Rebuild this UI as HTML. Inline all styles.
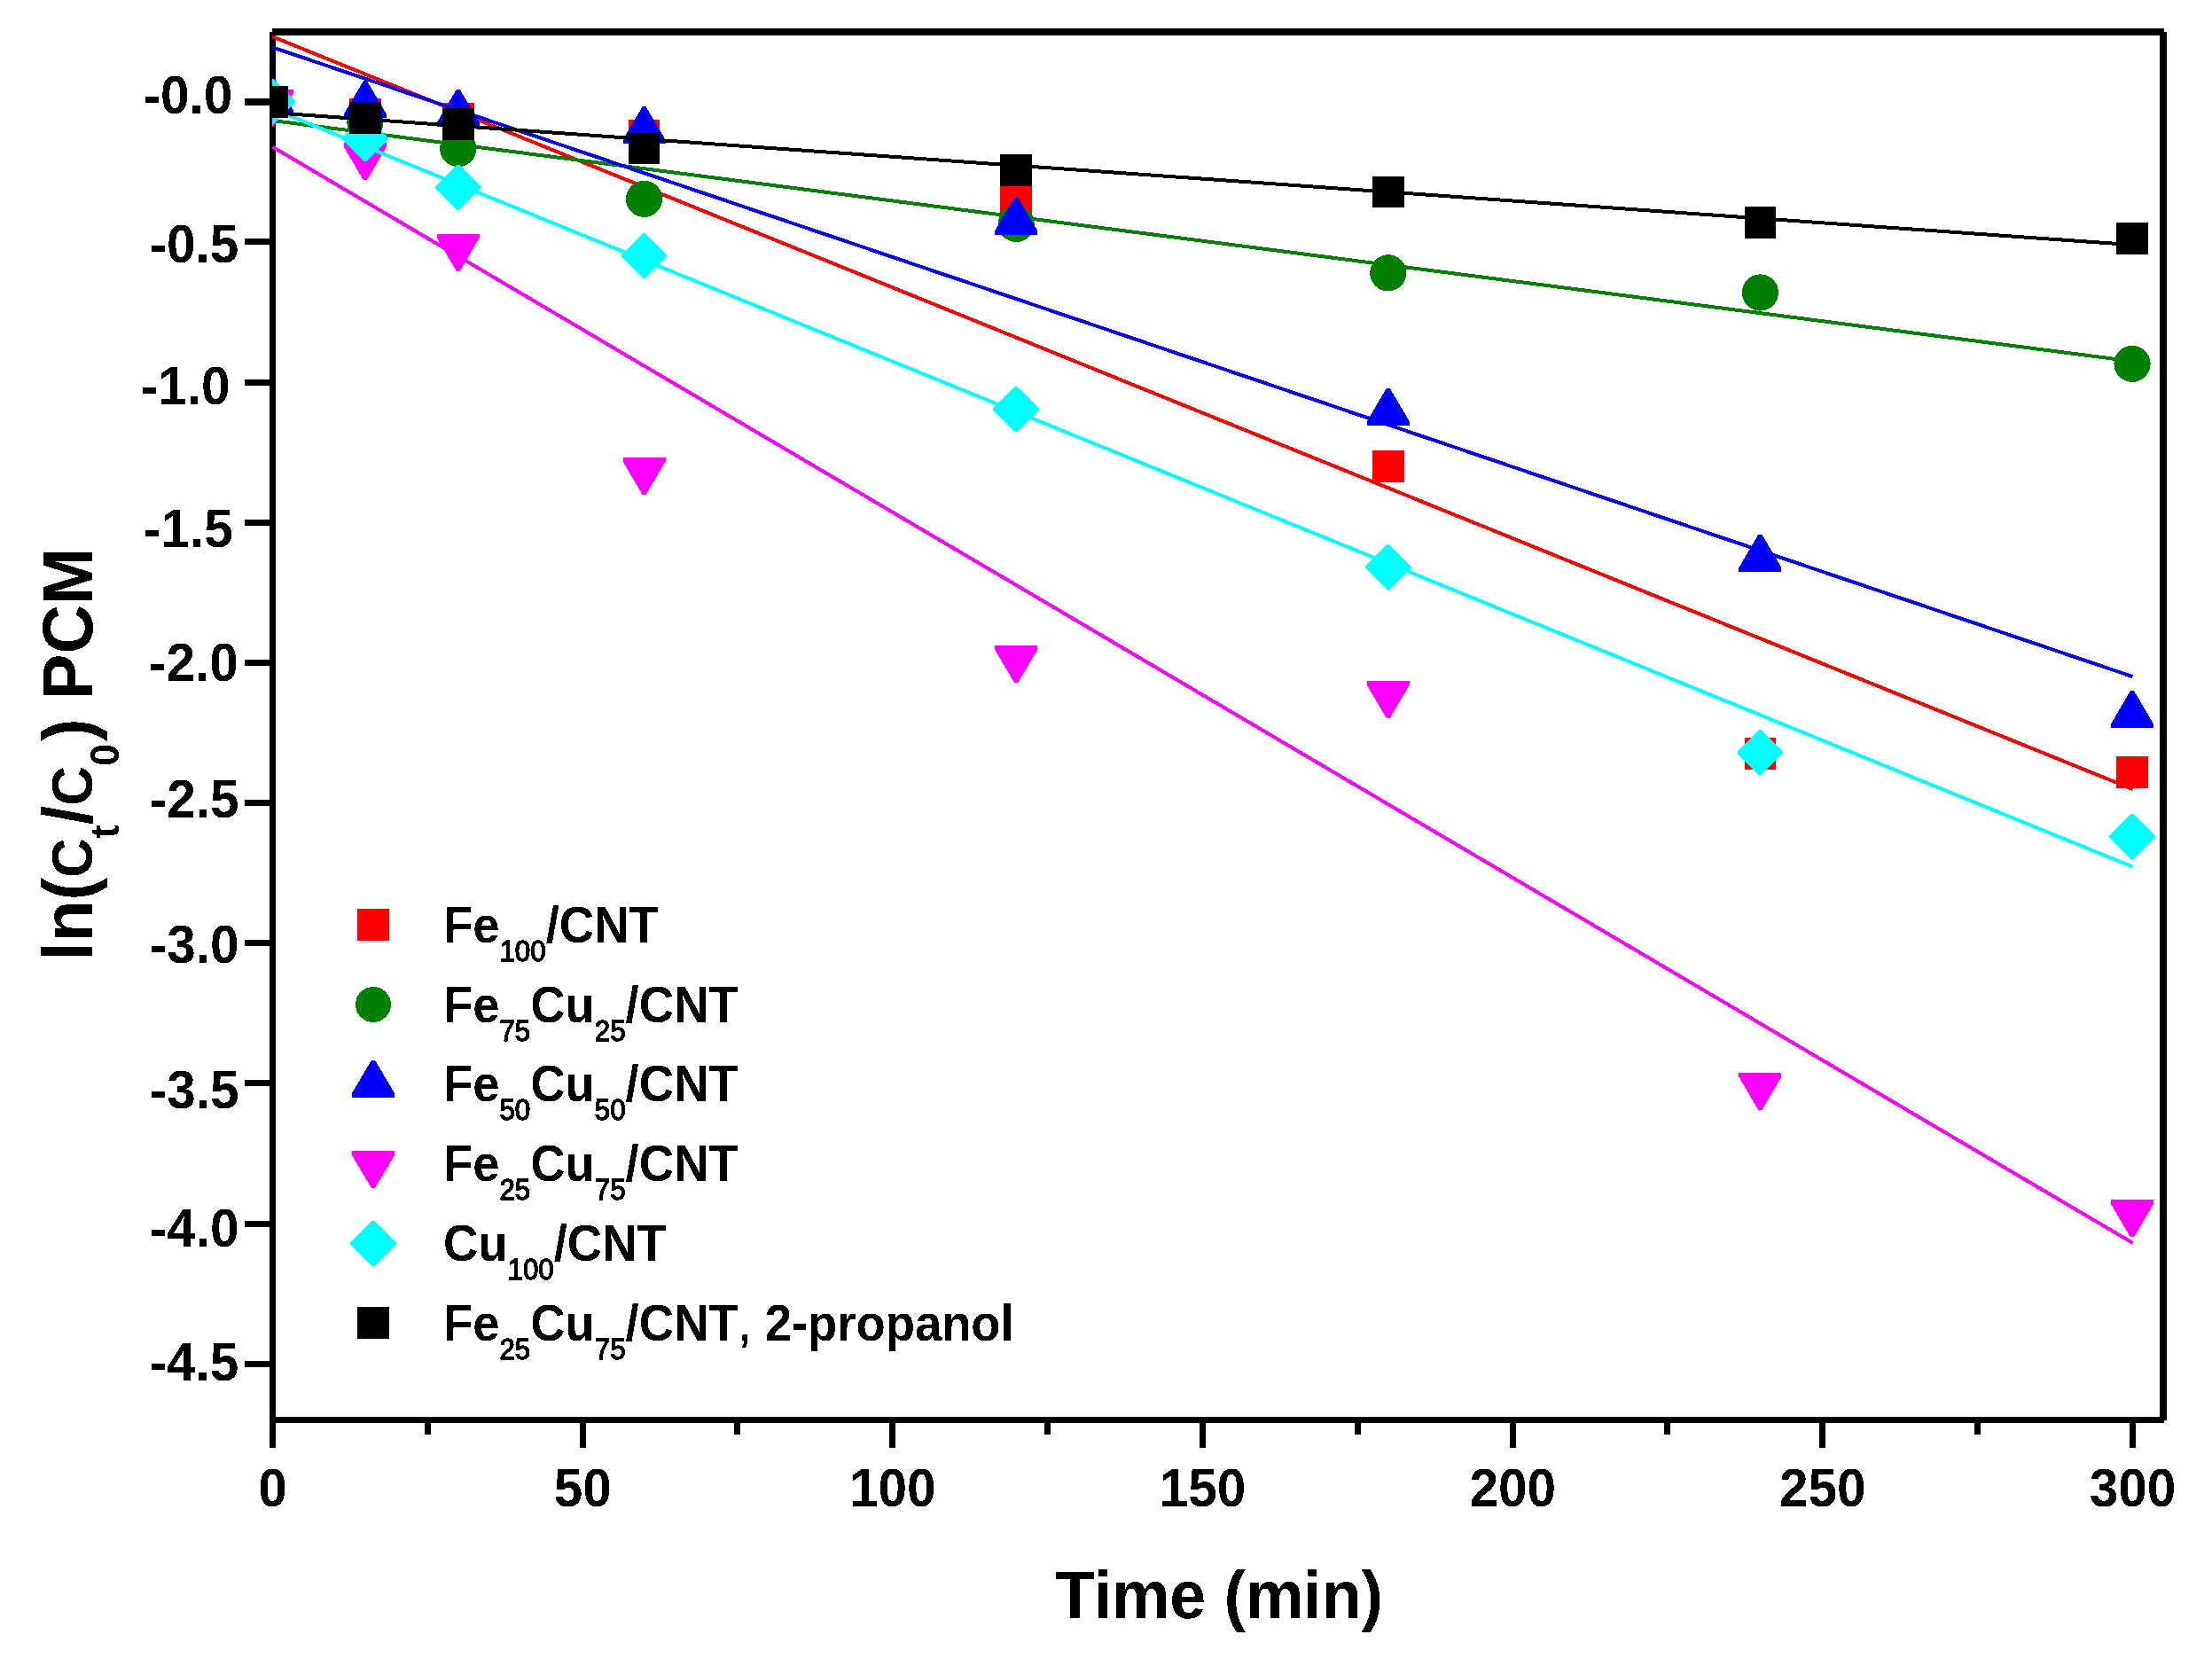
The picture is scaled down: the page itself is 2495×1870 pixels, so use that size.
<!DOCTYPE html>
<html lang="en"><head><meta charset="utf-8"><title>ln(ct/c0) PCM vs Time</title>
<style>html,body{margin:0;padding:0;background:#fff}svg{display:block}text{font-family:"Liberation Sans", Arial, Helvetica, sans-serif;font-weight:bold;fill:#000}</style></head><body>
<svg width="2495" height="1870" viewBox="0 0 2495 1870">
<rect x="0" y="0" width="2495" height="1870" fill="#fff"/>
<defs><filter id="bw" filterUnits="userSpaceOnUse" x="0" y="0" width="2495" height="1870" color-interpolation-filters="sRGB"><feComponentTransfer><feFuncA type="discrete" tableValues="0 1"/></feComponentTransfer></filter></defs>
<defs><clipPath id="plot"><rect x="307" y="36" width="2133" height="1565"/></clipPath></defs>
<g shape-rendering="crispEdges" fill="#000">
<rect x="304" y="36" width="7" height="1597"/>
<rect x="307" y="32" width="2134" height="8"/>
<rect x="2436" y="36" width="8" height="1566"/>
<rect x="307" y="1598" width="2134" height="7"/>
<rect x="276" y="111" width="30" height="8"/>
<rect x="276" y="269" width="30" height="7"/>
<rect x="276" y="428" width="30" height="7"/>
<rect x="276" y="586" width="30" height="7"/>
<rect x="276" y="744" width="30" height="7"/>
<rect x="276" y="902" width="30" height="7"/>
<rect x="276" y="1060" width="30" height="7"/>
<rect x="276" y="1218" width="30" height="7"/>
<rect x="276" y="1377" width="30" height="7"/>
<rect x="276" y="1535" width="30" height="7"/>
<rect x="479" y="1601" width="7" height="17"/>
<rect x="654" y="1601" width="7" height="32"/>
<rect x="828" y="1601" width="7" height="17"/>
<rect x="1003" y="1601" width="7" height="32"/>
<rect x="1178" y="1601" width="7" height="17"/>
<rect x="1353" y="1601" width="7" height="32"/>
<rect x="1528" y="1601" width="7" height="17"/>
<rect x="1703" y="1601" width="7" height="32"/>
<rect x="1877" y="1601" width="7" height="17"/>
<rect x="2052" y="1601" width="7" height="32"/>
<rect x="2227" y="1601" width="7" height="17"/>
<rect x="2402" y="1601" width="7" height="32"/>
</g>
<g filter="url(#bw)"><g transform="translate(262.3,127.8) scale(1,1.04)"><text font-size="58.5" text-anchor="end">-0.0</text></g></g>
<g filter="url(#bw)"><g transform="translate(269.2,295.7) scale(1,1.04)"><text font-size="58.5" text-anchor="end">-0.5</text></g></g>
<g filter="url(#bw)"><g transform="translate(259.5,455.7) scale(1,1.04)"><text font-size="58.5" text-anchor="end">-1.0</text></g></g>
<g filter="url(#bw)"><g transform="translate(262.7,616.5) scale(1,1.04)"><text font-size="58.5" text-anchor="end">-1.5</text></g></g>
<g filter="url(#bw)"><g transform="translate(268.7,767.7) scale(1,1.04)"><text font-size="58.5" text-anchor="end">-2.0</text></g></g>
<g filter="url(#bw)"><g transform="translate(269.6,921.9) scale(1,1.04)"><text font-size="58.5" text-anchor="end">-2.5</text></g></g>
<g filter="url(#bw)"><g transform="translate(269.6,1086.0) scale(1,1.04)"><text font-size="58.5" text-anchor="end">-3.0</text></g></g>
<g filter="url(#bw)"><g transform="translate(269.6,1249.8) scale(1,1.04)"><text font-size="58.5" text-anchor="end">-3.5</text></g></g>
<g filter="url(#bw)"><g transform="translate(269.6,1405.7) scale(1,1.04)"><text font-size="58.5" text-anchor="end">-4.0</text></g></g>
<g filter="url(#bw)"><g transform="translate(269.3,1556.8) scale(1,1.04)"><text font-size="58.5" text-anchor="end">-4.5</text></g></g>
<g filter="url(#bw)"><g transform="translate(307.5,1698.5) scale(1,1.04)"><text font-size="58.5" text-anchor="middle">0</text></g></g>
<g filter="url(#bw)"><g transform="translate(657.2,1698.5) scale(1,1.04)"><text font-size="58.5" text-anchor="middle">50</text></g></g>
<g filter="url(#bw)"><g transform="translate(1006.8,1698.5) scale(1,1.04)"><text font-size="58.5" text-anchor="middle">100</text></g></g>
<g filter="url(#bw)"><g transform="translate(1356.5,1698.5) scale(1,1.04)"><text font-size="58.5" text-anchor="middle">150</text></g></g>
<g filter="url(#bw)"><g transform="translate(1706.2,1698.5) scale(1,1.04)"><text font-size="58.5" text-anchor="middle">200</text></g></g>
<g filter="url(#bw)"><g transform="translate(2055.8,1698.5) scale(1,1.04)"><text font-size="58.5" text-anchor="middle">250</text></g></g>
<g filter="url(#bw)"><g transform="translate(2405.5,1698.5) scale(1,1.04)"><text font-size="58.5" text-anchor="middle">300</text></g></g>
<g filter="url(#bw)"><g transform="translate(1375.0,1825.0) scale(1,1.04)"><text font-size="73.5" text-anchor="middle">Time (min)</text></g></g>
<g filter="url(#bw)"><g transform="translate(104.0,1084.0) rotate(-90) scale(1,1.04)"><text font-size="77" text-anchor="start">ln(<tspan font-size="62">C</tspan><tspan font-size="45" dy="28.4">t</tspan><tspan dy="-28.4">/</tspan><tspan font-size="62">C</tspan><tspan font-size="45" dy="28.4">0</tspan><tspan dy="-28.4" dx="3">) PCM</tspan></text></g></g>
<g clip-path="url(#plot)" shape-rendering="crispEdges">
<rect x="289.2" y="97.0" width="35.5" height="35.5" fill="#ff0000"/>
<rect x="394.1" y="111.3" width="35.5" height="35.5" fill="#ff0000"/>
<rect x="499.0" y="116.4" width="35.5" height="35.5" fill="#ff0000"/>
<rect x="708.8" y="135.0" width="35.5" height="35.5" fill="#ff0000"/>
<rect x="1128.4" y="207.8" width="35.5" height="35.5" fill="#ff0000"/>
<rect x="1548.0" y="508.4" width="35.5" height="35.5" fill="#ff0000"/>
<rect x="1967.6" y="832.0" width="35.5" height="35.5" fill="#ff0000"/>
<rect x="2387.2" y="853.2" width="35.5" height="35.5" fill="#ff0000"/>
<line x1="307.5" y1="41.4" x2="2405.5" y2="890.0" stroke="#ff0000" stroke-width="4"/>
<circle cx="307.0" cy="114.8" r="20.6" fill="#008000"/>
<circle cx="411.9" cy="137.9" r="20.6" fill="#008000"/>
<circle cx="516.8" cy="167.6" r="20.6" fill="#008000"/>
<circle cx="726.6" cy="224.3" r="20.6" fill="#008000"/>
<circle cx="1146.2" cy="252.4" r="20.6" fill="#008000"/>
<circle cx="1565.8" cy="307.8" r="20.6" fill="#008000"/>
<circle cx="1985.4" cy="330.0" r="20.6" fill="#008000"/>
<circle cx="2405.0" cy="410.3" r="20.6" fill="#008000"/>
<line x1="307.5" y1="136.0" x2="2405.5" y2="407.5" stroke="#008000" stroke-width="4"/>
<polygon points="305.0,87.1 309.0,87.1 331.0,124.5 331.0,129.1 283.0,129.1 283.0,124.5" fill="#0000ff"/>
<polygon points="409.9,91.2 413.9,91.2 435.9,128.6 435.9,133.2 387.9,133.2 387.9,128.6" fill="#0000ff"/>
<polygon points="514.8,101.0 518.8,101.0 540.8,138.4 540.8,143.0 492.8,143.0 492.8,138.4" fill="#0000ff"/>
<polygon points="724.6,120.3 728.6,120.3 750.6,157.7 750.6,162.3 702.6,162.3 702.6,157.7" fill="#0000ff"/>
<polygon points="1144.2,222.8 1148.2,222.8 1170.2,260.2 1170.2,264.8 1122.2,264.8 1122.2,260.2" fill="#0000ff"/>
<polygon points="1563.8,438.0 1567.8,438.0 1589.8,475.4 1589.8,480.0 1541.8,480.0 1541.8,475.4" fill="#0000ff"/>
<polygon points="1983.4,602.8 1987.4,602.8 2009.4,640.2 2009.4,644.8 1961.4,644.8 1961.4,640.2" fill="#0000ff"/>
<polygon points="2403.0,779.1 2407.0,779.1 2429.0,816.5 2429.0,821.1 2381.0,821.1 2381.0,816.5" fill="#0000ff"/>
<line x1="307.5" y1="53.4" x2="2405.5" y2="763.1" stroke="#0000ff" stroke-width="4"/>
<polygon points="283.0,100.9 331.0,100.9 331.0,105.6 309.0,143.0 305.0,143.0 283.0,105.6" fill="#ff00ff"/>
<polygon points="387.9,161.0 435.9,161.0 435.9,165.7 413.9,203.1 409.9,203.1 387.9,165.7" fill="#ff00ff"/>
<polygon points="492.8,263.5 540.8,263.5 540.8,268.2 518.8,305.6 514.8,305.6 492.8,268.2" fill="#ff00ff"/>
<polygon points="702.6,515.7 750.6,515.7 750.6,520.4 728.6,557.8 724.6,557.8 702.6,520.4" fill="#ff00ff"/>
<polygon points="1122.2,728.0 1170.2,728.0 1170.2,732.7 1148.2,770.1 1144.2,770.1 1122.2,732.7" fill="#ff00ff"/>
<polygon points="1541.8,767.9 1589.8,767.9 1589.8,772.6 1567.8,810.0 1563.8,810.0 1541.8,772.6" fill="#ff00ff"/>
<polygon points="1961.4,1209.9 2009.4,1209.9 2009.4,1214.6 1987.4,1252.0 1983.4,1252.0 1961.4,1214.6" fill="#ff00ff"/>
<polygon points="2381.0,1353.2 2429.0,1353.2 2429.0,1357.9 2407.0,1395.3 2403.0,1395.3 2381.0,1357.9" fill="#ff00ff"/>
<line x1="307.5" y1="165.7" x2="2405.5" y2="1401.9" stroke="#ff00ff" stroke-width="4"/>
<polygon points="306.0,89.0 308.0,89.0 332.8,113.8 332.8,115.8 308.0,140.6 306.0,140.6 281.2,115.8 281.2,113.8" fill="#00ffff"/>
<polygon points="410.9,130.8 412.9,130.8 437.7,155.6 437.7,157.6 412.9,182.4 410.9,182.4 386.1,157.6 386.1,155.6" fill="#00ffff"/>
<polygon points="515.8,185.5 517.8,185.5 542.6,210.3 542.6,212.3 517.8,237.1 515.8,237.1 491.0,212.3 491.0,210.3" fill="#00ffff"/>
<polygon points="725.6,262.7 727.6,262.7 752.4,287.5 752.4,289.5 727.6,314.3 725.6,314.3 700.8,289.5 700.8,287.5" fill="#00ffff"/>
<polygon points="1145.2,435.8 1147.2,435.8 1172.0,460.6 1172.0,462.6 1147.2,487.4 1145.2,487.4 1120.4,462.6 1120.4,460.6" fill="#00ffff"/>
<polygon points="1564.8,614.2 1566.8,614.2 1591.6,639.0 1591.6,641.0 1566.8,665.8 1564.8,665.8 1540.0,641.0 1540.0,639.0" fill="#00ffff"/>
<polygon points="1984.4,823.0 1986.4,823.0 2011.2,847.8 2011.2,849.8 1986.4,874.6 1984.4,874.6 1959.6,849.8 1959.6,847.8" fill="#00ffff"/>
<polygon points="2404.0,918.0 2406.0,918.0 2430.8,942.8 2430.8,944.8 2406.0,969.6 2404.0,969.6 2379.2,944.8 2379.2,942.8" fill="#00ffff"/>
<line x1="307.5" y1="122.7" x2="2405.5" y2="977.6" stroke="#00ffff" stroke-width="4"/>
<rect x="289.2" y="97.0" width="35.5" height="35.5" fill="#000000"/>
<rect x="394.1" y="115.1" width="35.5" height="35.5" fill="#000000"/>
<rect x="499.0" y="122.0" width="35.5" height="35.5" fill="#000000"/>
<rect x="708.8" y="149.9" width="35.5" height="35.5" fill="#000000"/>
<rect x="1128.4" y="174.3" width="35.5" height="35.5" fill="#000000"/>
<rect x="1548.0" y="198.9" width="35.5" height="35.5" fill="#000000"/>
<rect x="1967.6" y="233.1" width="35.5" height="35.5" fill="#000000"/>
<rect x="2387.2" y="251.1" width="35.5" height="35.5" fill="#000000"/>
<line x1="307.5" y1="127.1" x2="2405.5" y2="276.2" stroke="#000000" stroke-width="4"/>
</g>
<g shape-rendering="crispEdges">
<rect x="403.0" y="1025.0" width="36.0" height="36.0" fill="#ff0000"/>
<circle cx="421.0" cy="1133.0" r="20" fill="#008000"/>
<polygon points="419.0,1195.8 423.0,1195.8 445.2,1233.2 445.2,1237.8 396.8,1237.8 396.8,1233.2" fill="#0000ff"/>
<polygon points="396.8,1297.9 445.2,1297.9 445.2,1302.6 423.0,1340.0 419.0,1340.0 396.8,1302.6" fill="#ff00ff"/>
<polygon points="420.0,1376.7 422.0,1376.7 446.8,1401.5 446.8,1403.5 422.0,1428.2 420.0,1428.2 395.2,1403.5 395.2,1401.5" fill="#00ffff"/>
<rect x="403.0" y="1474.0" width="36.0" height="36.0" fill="#000000"/>
</g>
<g filter="url(#bw)"><g transform="translate(500.0,1062.8) scale(1,1.04)"><text font-size="54.4" text-anchor="start">Fe<tspan font-size="31.3" font-weight="normal" stroke="#000" stroke-width="1.3" dy="20.5">100</tspan><tspan dy="-20.5">/CNT</tspan></text></g></g>
<g filter="url(#bw)"><g transform="translate(500.0,1153.0) scale(1,1.04)"><text font-size="54.4" text-anchor="start">Fe<tspan font-size="31.3" font-weight="normal" stroke="#000" stroke-width="1.3" dy="20.5">75</tspan><tspan dy="-20.5">Cu</tspan><tspan font-size="31.3" font-weight="normal" stroke="#000" stroke-width="1.3" dy="20.5">25</tspan><tspan dy="-20.5">/CNT</tspan></text></g></g>
<g filter="url(#bw)"><g transform="translate(500.0,1241.9) scale(1,1.04)"><text font-size="54.4" text-anchor="start">Fe<tspan font-size="31.3" font-weight="normal" stroke="#000" stroke-width="1.3" dy="20.5">50</tspan><tspan dy="-20.5">Cu</tspan><tspan font-size="31.3" font-weight="normal" stroke="#000" stroke-width="1.3" dy="20.5">50</tspan><tspan dy="-20.5">/CNT</tspan></text></g></g>
<g filter="url(#bw)"><g transform="translate(500.0,1331.8) scale(1,1.04)"><text font-size="54.4" text-anchor="start">Fe<tspan font-size="31.3" font-weight="normal" stroke="#000" stroke-width="1.3" dy="20.5">25</tspan><tspan dy="-20.5">Cu</tspan><tspan font-size="31.3" font-weight="normal" stroke="#000" stroke-width="1.3" dy="20.5">75</tspan><tspan dy="-20.5">/CNT</tspan></text></g></g>
<g filter="url(#bw)"><g transform="translate(500.0,1421.8) scale(1,1.04)"><text font-size="54.4" text-anchor="start">Cu<tspan font-size="31.3" font-weight="normal" stroke="#000" stroke-width="1.3" dy="20.5">100</tspan><tspan dy="-20.5">/CNT</tspan></text></g></g>
<g filter="url(#bw)"><g transform="translate(500.0,1511.9) scale(1,1.04)"><text font-size="54.4" text-anchor="start">Fe<tspan font-size="31.3" font-weight="normal" stroke="#000" stroke-width="1.3" dy="20.5">25</tspan><tspan dy="-20.5">Cu</tspan><tspan font-size="31.3" font-weight="normal" stroke="#000" stroke-width="1.3" dy="20.5">75</tspan><tspan dy="-20.5">/CNT<tspan font-weight="normal" stroke="#000" stroke-width="0.8">,</tspan> 2-propanol</tspan></text></g></g>
</svg></body></html>
